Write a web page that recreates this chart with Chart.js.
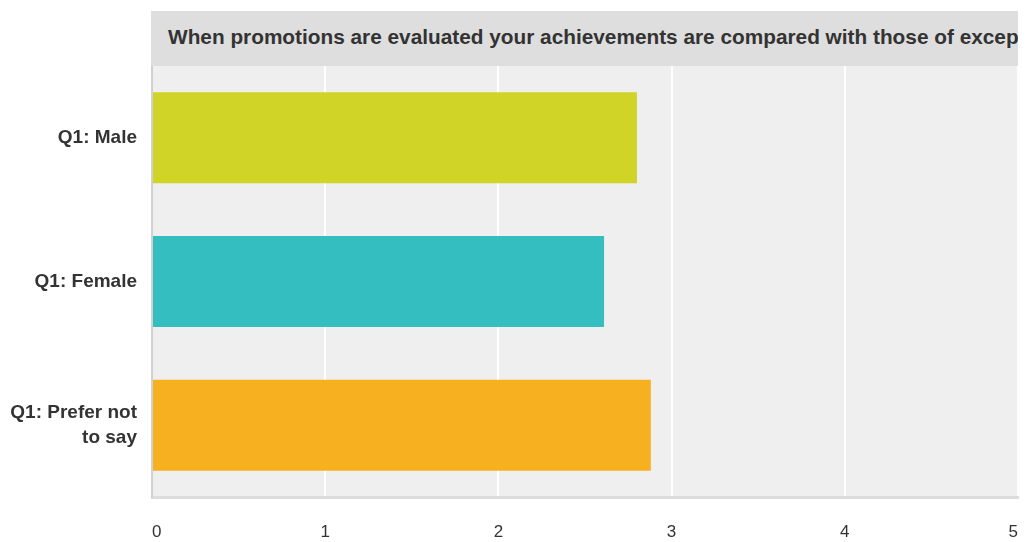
<!DOCTYPE html>
<html>
<head>
<meta charset="utf-8">
<script src="https://cdn.jsdelivr.net/npm/chart.js@4"></script>
<style>
  html, body { margin: 0; padding: 0; background: #fff; }
  #wrap { position: relative; width: 1025px; height: 542px; overflow: hidden; }
  #question {
    position: absolute; left: 151px; top: 11px; width: 850px; height: 55px;
    padding-left: 17px; background: #dedede; color: #333;
    font: bold 20.8px "Liberation Sans", Arial, sans-serif; line-height: 51px;
    white-space: nowrap; overflow: hidden; z-index: 2;
  }
  canvas { position: absolute; left: 0; top: 0; }
</style>
</head>
<body>
<div id="wrap">
  <div id="question">When promotions are evaluated your achievements are compared with those of exceptional colleagues</div>
  <canvas id="chart" width="1025" height="542"></canvas>
</div>
<script>
// answer groups and their weighted averages
const groups = ["Q1: Male", "Q1: Female", ["Q1: Prefer not", "to say"]];
const averages = [2.80, 2.61, 2.88];
const barColors = ["#cfd427", "#34bec0", "#f6b020"];
const axisMin = 0;
const axisMax = 5;

// grey plot background behind the bars
const plotBackground = {
  id: "plotBackground",
  beforeDraw(chart) {
    const { ctx, chartArea } = chart;
    ctx.save();
    ctx.fillStyle = "#efefef";
    ctx.fillRect(chartArea.left, chartArea.top, chartArea.right - chartArea.left, chartArea.bottom - chartArea.top);
    ctx.restore();
  }
};

const ctx = document.getElementById("chart").getContext("2d");
new Chart(ctx, {
  type: "bar",
  data: {
    labels: groups,
    datasets: [{
      data: averages,
      backgroundColor: barColors,
      borderWidth: 0,
      categoryPercentage: 1,
      barPercentage: 0.633
    }]
  },
  options: {
    indexAxis: "y",
    responsive: false,
    animation: false,
    layout: { padding: { top: 66, right: 7, left: 0, bottom: 0 } },
    plugins: {
      legend: { display: false },
      tooltip: { enabled: false }
    },
    scales: {
      x: {
        min: axisMin,
        max: axisMax,
        afterFit(axis) {
          axis.height = 45;
          // labels are aligned inside the plot, so no side room is needed
          axis.paddingLeft = 0;
          axis.paddingRight = 0;
        },
        grid: { color: "#ffffff", lineWidth: 2, drawTicks: false },
        border: { color: "#dddddd", width: 3 },
        ticks: {
          stepSize: 1,
          align: "inner",
          padding: 25,
          color: "#333",
          font: { family: "'Liberation Sans', Arial, sans-serif", size: 17 }
        }
      },
      y: {
        afterFit(axis) { axis.width = 152; },
        grid: { display: false, drawTicks: false },
        border: { color: "#d0d0d0", width: 2 },
        ticks: {
          padding: 15,
          color: "#333",
          font: { family: "'Liberation Sans', Arial, sans-serif", size: 19, weight: "bold", lineHeight: 1.32 }
        }
      }
    }
  },
  plugins: [plotBackground]
});
</script>
</body>
</html>
